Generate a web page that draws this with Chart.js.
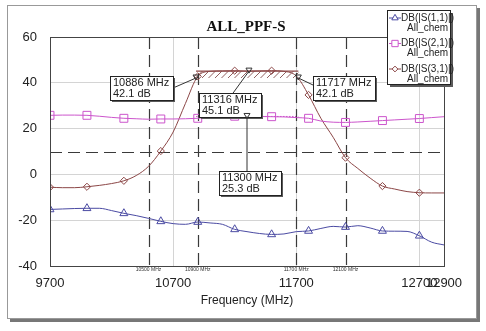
<!DOCTYPE html>
<html>
<head>
<meta charset="utf-8">
<script src="https://cdn.jsdelivr.net/npm/chart.js@4.4.0/dist/chart.umd.min.js"></script>
<style>
  html, body { margin: 0; padding: 0; background: #fff; }
  #wrap { width: 486px; height: 331px; position: relative; }
</style>
</head>
<body>
<div id="wrap"><canvas id="c" width="486" height="331"></canvas></div>
<script>
// --- data ---
const freqMHz = [9700, 9800, 9900, 10000, 10100, 10200, 10300, 10400, 10500, 10600,
  10700, 10800, 10900, 11000, 11100, 11200, 11300, 11400, 11500, 11600,
  11700, 11800, 11900, 12000, 12100, 12200, 12300, 12400, 12500, 12600,
  12700, 12800, 12900];
const s11 = [-15.3, -15.1, -14.9, -14.8, -14.8, -15.8, -17.0, -18.0, -19.2, -20.5,
  -21.5, -21.8, -20.8, -21.2, -21.8, -24.0, -25.0, -25.8, -26.2, -26.0,
  -25.0, -24.7, -23.6, -22.7, -23.0, -22.4, -23.4, -24.7, -24.8, -24.9,
  -26.8, -29.6, -30.8];
const s21 = [25.8, 25.9, 25.9, 25.8, 25.4, 24.9, 24.5, 24.3, 24.1, 24.2,
  24.2, 24.3, 24.5, 24.9, 25.2, 25.4, 25.3, 25.3, 25.2, 25.1,
  24.8, 24.5, 23.3, 22.8, 22.7, 22.9, 23.2, 23.5, 23.8, 24.1,
  24.4, 24.8, 25.2];
const s31 = [-5.6, -5.8, -5.8, -5.4, -4.8, -4.0, -2.8, -0.5, 3.5, 10.2,
  18.5, 31.0, 42.8, 45.0, 45.2, 45.3, 45.1, 45.2, 45.3, 45.0,
  43.0, 34.7, 24.5, 16.2, 7.3, 2.6, -1.6, -5.1, -6.4, -7.5,
  -8.0, -8.1, -8.1];

const xTickValues = [9700, 10700, 11700, 12700, 12900];
const seriesNames = ['DB(|S(1,1)|)', 'DB(|S(2,1)|)', 'DB(|S(3,1)|)'];
const seriesSub = 'All_chem';
const chartTitle = 'ALL_PPF-S';
const xTitle = 'Frequency (MHz)';

// markers (freq MHz, dB)
const markerFreq = [10886, 11316, 11717, 11300];
const markerDb = [42.1, 45.1, 42.1, 25.3];
// dashed marker lines
const vLineFreq = [10500, 10900, 11700, 12100];
const hLineDb = 10;
// hatched band of the pass band, and the S21 dotted level
const bandFreq = [10886, 11717];
const bandDb = [42.1, 45.1];
const s21Level = 25.3;

// --- styles ---
const colS11 = '#4b4ba3';
const colS21 = '#cc55cc';
const colS31 = '#8c4747';
const seriesColors = [colS11, colS21, colS31];
const seriesPoints = ['triangle', 'rect', 'rectRot'];
const seriesRadius = [4.6, 5.6, 3.6];
// annotation box offsets relative to marker point (px) and leader anchor
const boxStyle = [
  { dx: -86, dy: -2, anchor: 'right' },
  { dx: -50, dy: 22, anchor: 'top' },
  { dx: 15, dy: -2, anchor: 'left' },
  { dx: -28, dy: 55, anchor: 'topx' }
];

function toXY(ys) {
  return freqMHz.map((f, i) => ({ x: f, y: ys[i] }));
}

function makeSet(label, ys, i) {
  return {
    label: label,
    data: toXY(ys),
    borderColor: seriesColors[i],
    borderWidth: 1,
    backgroundColor: 'rgba(255,255,255,0)',
    pointStyle: seriesPoints[i],
    pointRadius: ctx => (ctx.dataIndex % 3 === 0 ? seriesRadius[i] : 0),
    pointBorderColor: seriesColors[i],
    pointBorderWidth: 1,
    pointBackgroundColor: 'rgba(255,255,255,0)',
    cubicInterpolationMode: 'monotone',
    fill: false
  };
}

function dashedLine(ctx, x1, y1, x2, y2) {
  ctx.save();
  ctx.strokeStyle = '#3a3a3a';
  ctx.lineWidth = 1.2;
  ctx.setLineDash([12, 6]);
  ctx.beginPath();
  ctx.moveTo(x1, y1);
  ctx.lineTo(x2, y2);
  ctx.stroke();
  ctx.restore();
}

function shadowBox(ctx, x, y, w, h, sh) {
  ctx.fillStyle = '#5a5a5a';
  ctx.fillRect(x + sh, y + sh, w, h);
  ctx.fillStyle = '#fff';
  ctx.fillRect(x, y, w, h);
  ctx.strokeStyle = '#222';
  ctx.lineWidth = 1;
  ctx.strokeRect(x + 0.5, y + 0.5, w, h);
}

const overlay = {
  id: 'overlay',
  beforeDraw(chart) {
    const ctx = chart.ctx;
    ctx.save();
    ctx.fillStyle = '#fff';
    ctx.fillRect(0, 0, chart.width, chart.height);
    // outer frame with shadow
    ctx.fillStyle = '#777';
    ctx.fillRect(10, 8, 470, 314);
    ctx.fillStyle = '#fff';
    ctx.fillRect(7, 5, 470, 314);
    ctx.strokeStyle = '#999';
    ctx.lineWidth = 1;
    ctx.strokeRect(7.5, 5.5, 469, 313);
    // title
    ctx.fillStyle = '#111';
    ctx.font = 'bold 15px "Liberation Serif", "DejaVu Serif", serif';
    ctx.textAlign = 'center';
    ctx.textBaseline = 'middle';
    ctx.fillText(chartTitle, 246, 27);
    ctx.restore();
  },
  beforeDatasetsDraw(chart) {
    const ctx = chart.ctx;
    const xs = chart.scales.x, ys = chart.scales.y;
    const a = chart.chartArea;
    // hatched band
    const bx1 = xs.getPixelForValue(bandFreq[0]);
    const bx2 = xs.getPixelForValue(bandFreq[1]);
    const by1 = ys.getPixelForValue(bandDb[1]);
    const by2 = ys.getPixelForValue(bandDb[0]);
    ctx.save();
    ctx.beginPath();
    ctx.rect(bx1, by1, bx2 - bx1, by2 - by1);
    ctx.clip();
    ctx.strokeStyle = 'rgba(110,45,45,0.85)';
    ctx.lineWidth = 0.9;
    ctx.beginPath();
    for (let x = bx1 - 20; x < bx2 + 20; x += 6.5) {
      ctx.moveTo(x, by2);
      ctx.lineTo(x + (by2 - by1), by1);
    }
    ctx.stroke();
    ctx.restore();
    ctx.save();
    ctx.strokeStyle = colS31;
    ctx.lineWidth = 1.2;
    ctx.beginPath();
    ctx.moveTo(bx1, by1);
    ctx.lineTo(bx2, by1);
    ctx.stroke();
    // S21 dotted level
    const ly = ys.getPixelForValue(s21Level);
    ctx.strokeStyle = colS21;
    ctx.lineWidth = 1;
    ctx.setLineDash([1.5, 1.5]);
    ctx.beginPath();
    ctx.moveTo(bx1, ly);
    ctx.lineTo(bx2, ly);
    ctx.stroke();
    ctx.restore();
    // dashed marker lines
    vLineFreq.forEach(f => {
      const x = Math.round(xs.getPixelForValue(f)) + 0.5;
      dashedLine(ctx, x, a.top, x, a.bottom);
    });
    const hy = Math.round(ys.getPixelForValue(hLineDb)) + 0.5;
    dashedLine(ctx, a.left, hy, a.right, hy);
  },
  afterDatasetsDraw(chart) {
    const ctx = chart.ctx;
    const xs = chart.scales.x, ys = chart.scales.y;
    const a = chart.chartArea;
    ctx.save();
    // plot border
    ctx.strokeStyle = '#444';
    ctx.lineWidth = 1;
    ctx.strokeRect(Math.round(a.left) + 0.5, Math.round(a.top) + 0.5,
      Math.round(a.right - a.left), Math.round(a.bottom - a.top));
    // tiny labels under the dashed lines
    ctx.fillStyle = '#333';
    ctx.font = '5px "Liberation Sans", Arial, sans-serif';
    ctx.textAlign = 'center';
    ctx.textBaseline = 'middle';
    vLineFreq.forEach(f => {
      ctx.fillText(f + ' MHz', xs.getPixelForValue(f), a.bottom + 4);
    });
    // marker annotations
    ctx.font = '11px "Liberation Sans", Arial, sans-serif';
    markerFreq.forEach((f, i) => {
      const px = xs.getPixelForValue(f);
      const py = ys.getPixelForValue(markerDb[i]);
      const st = boxStyle[i];
      const l1 = f + ' MHz';
      const l2 = markerDb[i].toFixed(1) + ' dB';
      const w = Math.ceil(Math.max(ctx.measureText(l1).width, ctx.measureText(l2).width)) + 6;
      const h = 24;
      const bx = Math.round(px + st.dx), by = Math.round(py + st.dy);
      // leader line
      let ax = bx + w, ay = by + h / 2;
      if (st.anchor === 'left') { ax = bx; ay = by + h / 2 - 3; }
      if (st.anchor === 'top') { ax = bx + w * 0.55; ay = by; }
      if (st.anchor === 'topx') { ax = px; ay = by; }
      ctx.strokeStyle = '#333';
      ctx.lineWidth = 1;
      ctx.beginPath();
      ctx.moveTo(ax, ay);
      ctx.lineTo(px, py);
      ctx.stroke();
      // marker symbol
      ctx.beginPath();
      ctx.moveTo(px - 3, py - 3);
      ctx.lineTo(px + 3, py - 3);
      ctx.lineTo(px, py + 2);
      ctx.closePath();
      ctx.stroke();
      shadowBox(ctx, bx, by, w, h, 2);
      ctx.fillStyle = '#222';
      ctx.textAlign = 'left';
      ctx.textBaseline = 'middle';
      ctx.fillText(l1, bx + 3, by + 7);
      ctx.fillText(l2, bx + 3, by + 18);
    });
    // legend box
    const lx = 387, ly = 10, lw = 63, lh = 74;
    shadowBox(ctx, lx, ly, lw, lh, 3);
    ctx.font = '10px "Liberation Sans", Arial, sans-serif';
    ctx.textAlign = 'left';
    ctx.textBaseline = 'middle';
    chart.data.datasets.forEach((ds, i) => {
      const y = ly + 8 + i * 25.5;
      ctx.strokeStyle = ds.borderColor;
      ctx.lineWidth = 1;
      ctx.beginPath();
      ctx.moveTo(lx + 2, y);
      ctx.lineTo(lx + 14, y);
      ctx.stroke();
      ctx.fillStyle = '#fff';
      Chart.helpers.drawPoint(ctx, {
        pointStyle: ds.pointStyle, radius: seriesRadius[i] * 0.8, borderWidth: 1, rotation: 0
      }, lx + 8, y);
      ctx.fillStyle = '#222';
      ctx.fillText(seriesNames[i], lx + 14, y);
      ctx.fillText(seriesSub, lx + 20, y + 10);
    });
    ctx.restore();
  }
};

const chart = new Chart(document.getElementById('c'), {
  type: 'line',
  data: {
    datasets: [
      makeSet(seriesNames[0], s11, 0),
      makeSet(seriesNames[1], s21, 1),
      makeSet(seriesNames[2], s31, 2)
    ]
  },
  options: {
    responsive: false,
    animation: false,
    layout: { padding: { top: 37, right: 42, left: 0, bottom: 0 } },
    plugins: {
      legend: { display: false },
      title: { display: false },
      tooltip: { enabled: false }
    },
    scales: {
      x: {
        type: 'linear',
        min: 9700,
        max: 12900,
        afterBuildTicks: scale => { scale.ticks = xTickValues.map(v => ({ value: v })); },
        afterFit: scale => { scale.height = 65; },
        ticks: {
          autoSkip: false,
          maxRotation: 0,
          padding: 10,
          color: '#222',
          font: { family: '"Liberation Sans", Arial, sans-serif', size: 13 },
          callback: v => String(v)
        },
        grid: { color: '#d4d4d4', drawTicks: false },
        border: { display: false },
        title: {
          display: true,
          text: xTitle,
          color: '#222',
          font: { family: '"Liberation Sans", Arial, sans-serif', size: 12 },
          padding: { top: 0, bottom: 23 }
        }
      },
      y: {
        min: -40,
        max: 60,
        afterFit: scale => { scale.width = 50; },
        ticks: {
          stepSize: 20,
          padding: 13,
          color: '#222',
          font: { family: '"Liberation Sans", Arial, sans-serif', size: 13 }
        },
        grid: { color: '#d4d4d4', drawTicks: false },
        border: { display: false }
      }
    }
  },
  plugins: [overlay]
});
</script>
</body>
</html>
